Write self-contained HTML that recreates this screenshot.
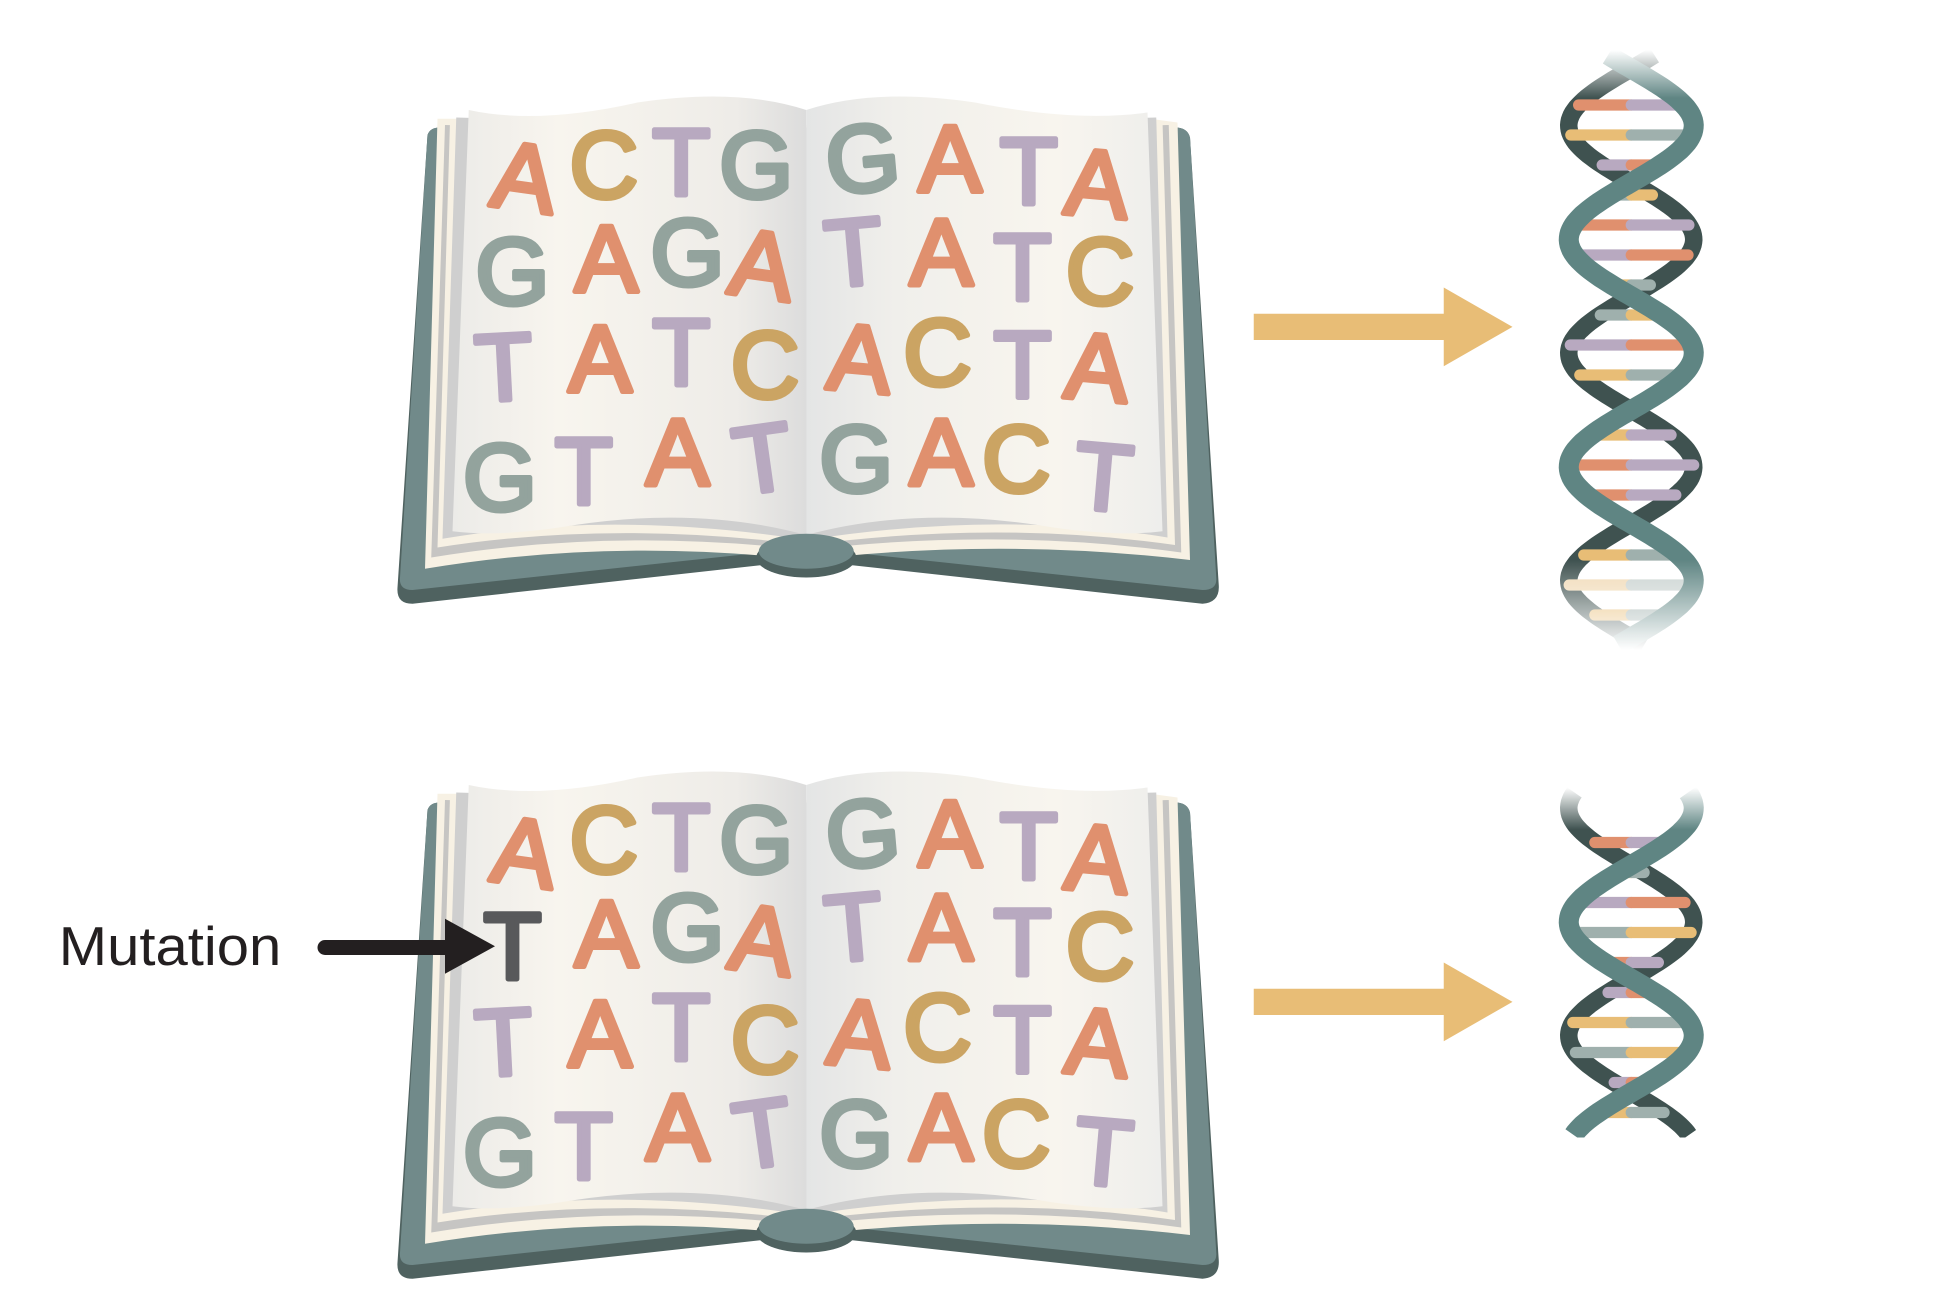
<!DOCTYPE html>
<html><head><meta charset="utf-8"><style>
html,body{margin:0;padding:0;background:#fff;}
svg{display:block;}
</style></head><body>
<svg id="root" width="1953" height="1311" viewBox="0 0 1562.4 1048.8" preserveAspectRatio="none" xmlns="http://www.w3.org/2000/svg">
<defs>
<linearGradient id="pageL" x1="0" x2="1" y1="0" y2="0">
<stop offset="0" stop-color="#ecebe8"/><stop offset="0.3" stop-color="#f8f5ee"/><stop offset="0.8" stop-color="#eeece8"/><stop offset="1" stop-color="#dcdcdc"/></linearGradient>
<linearGradient id="pageR" x1="0" x2="1" y1="0" y2="0">
<stop offset="0" stop-color="#e4e5e5"/><stop offset="0.25" stop-color="#f0efeb"/><stop offset="0.7" stop-color="#f8f5ee"/><stop offset="1" stop-color="#eeeeec"/></linearGradient>
<linearGradient id="fadeTop" x1="0" x2="0" y1="0" y2="1">
<stop offset="0" stop-color="#000"/><stop offset="0.08" stop-color="#fff"/><stop offset="0.85" stop-color="#fff"/><stop offset="1" stop-color="#000"/></linearGradient>
<linearGradient id="fadeTop2" x1="0" x2="0" y1="0" y2="1">
<stop offset="0" stop-color="#000"/><stop offset="0.12" stop-color="#fff"/><stop offset="1" stop-color="#fff"/></linearGradient>
<mask id="m1" maskUnits="userSpaceOnUse" x="1200" y="40" width="200" height="480"><rect x="1200" y="40" width="200" height="480" fill="url(#fadeTop)"/></mask>
<mask id="m2" maskUnits="userSpaceOnUse" x="1200" y="630" width="200" height="280"><rect x="1200" y="630" width="200" height="280" fill="url(#fadeTop2)"/></mask>
<g id="book">
<path d="M342,108 Q344,102 352,102 L646,150 L940,102 Q950,102 952,110 L975,468 Q976,482 962,483 L680,452 L645,462 L610,452 L330,483 Q317,483 318,470 Z" fill="#4f6260"/>
<path d="M342,108 Q344,102 352,102 L646,150 L940,102 Q950,102 952,110 L973,462 Q974,472 962,472 L680,442 L645,452 L610,442 L330,472 Q319,472 320,462 Z" fill="#718a8a"/>
<path d="M350,95 L372,95 L645,100 L920,95 L942,98 L952,448 Q800,430 645,448 Q490,430 340,455 Z" fill="#f7f1e4"/>
<path d="M356,100 L645,108 L935,100 L945,442 Q800,422 645,440 Q490,422 345,446 Z" fill="#c6c5c3"/>
<path d="M360,97 L645,105 L930,97 L940,436 Q800,416 645,436 Q490,416 350,438 Z" fill="#f7f1e4"/>
<path d="M365,94 L645,102 L925,94 L934,430 Q800,408 645,432 Q490,408 354,431 Z" fill="#cfcfcf"/>
<path d="M375,88 Q430,100 510,82 Q590,70 645,88 L645,428 Q560,405 460,420 Q400,430 362,425 Z" fill="url(#pageL)"/>
<path d="M645,88 Q700,70 780,82 Q860,98 918,90 L930,425 Q890,430 830,420 Q730,405 645,428 Z" fill="url(#pageR)"/>
<ellipse cx="645" cy="446" rx="40" ry="16" fill="#4f6260"/>
<ellipse cx="645" cy="441" rx="38" ry="14" fill="#718a8a"/>
</g>
</defs>
<use href="#book"/>
<use href="#book" y="540"/>
<g id="letters"></g>
<g id="arrows">
<path d="M1003,251 L1155,251 L1155,230 L1210,261.5 L1155,293 L1155,272 L1003,272 Z" fill="#e8bd76"/>
<path d="M1003,791 L1155,791 L1155,770 L1210,801.5 L1155,833 L1155,812 L1003,812 Z" fill="#e8bd76"/>
</g>
<g>
<text x="47" y="772" font-family="'Liberation Sans', sans-serif" font-size="44" textLength="178" lengthAdjust="spacingAndGlyphs" fill="#231f20">Mutation</text>
<line x1="260" y1="758" x2="365" y2="758" stroke="#231f20" stroke-width="12" stroke-linecap="round"/>
<path d="M356,735 L396,757 L356,779 Z" fill="#231f20"/>
</g>
<g id="dna1" mask="url(#m1)"></g>
<g id="dna2" mask="url(#m2)"></g>
</svg>
<script>
const NS="http://www.w3.org/2000/svg";
const colors={A:"#e0906e",C:"#cba463",T:"#b8a9c0",G:"#93a39d"};
const rows=[["A","C","T","G","G","A","T","A"],["G","A","G","A","T","A","T","C"],["T","A","T","C","A","C","T","A"],["G","T","A","T","G","A","C","T"]];
const xs=[[420,483,545,605,690,760,823,878],[410,485,550,610,683,753,818,880],[403,480,545,612,688,750,818,878],[400,467,542,610,685,753,813,883]];
const ys=[[140,130,128,130,125,125,135,145],[215,205,200,210,200,200,212,215],[292,285,280,290,285,280,290,292],[380,375,360,365,365,360,365,380]];
const rots=[[8,0,0,0,-5,0,0,5],[0,0,0,8,-5,0,0,0],[-3,0,0,0,5,0,0,5],[0,0,0,-8,0,0,0,5]];
const lg=document.getElementById('letters');
[0,540].forEach((dy,b)=>{
 rows.forEach((r,i)=>r.forEach((ch,j)=>{
  const t=document.createElementNS(NS,'text');
  let c=ch; let col=colors[ch];
  if(b===1&&i===1&&j===0){c="T";col="#58595b";}
  t.setAttribute('x',xs[i][j]);t.setAttribute('y',ys[i][j]+dy+28);
  t.setAttribute('text-anchor','middle');
  t.setAttribute('font-family',"'Liberation Sans', sans-serif");
  t.setAttribute('font-size','76');
  t.setAttribute('fill',col);t.setAttribute('stroke',col);t.setAttribute('stroke-width','4');t.setAttribute('stroke-linejoin','round');
  t.setAttribute('transform',`rotate(${rots[i][j]} ${xs[i][j]} ${ys[i][j]+dy})`);
  t.textContent=c;
  
  
  lg.appendChild(t);
 }));
});
const rungColors=[["#e0906e","#b8a9c0"],["#e8bd76","#9fb0ad"],["#b8a9c0","#e0906e"],["#9fb0ad","#e8bd76"],["#e0906e","#b8a9c0"],["#b8a9c0","#e0906e"],["#e8bd76","#9fb0ad"],["#9fb0ad","#e8bd76"],["#b8a9c0","#e0906e"],["#e8bd76","#9fb0ad"],["#e8bd76","#b8a9c0"],["#e0906e","#b8a9c0"],["#e0906e","#b8a9c0"],["#e8bd76","#9fb0ad"],["#f0d9b5","#c9d2d0"],["#e8bd76","#9fb0ad"]];
function helix(g,y0,y1){
 const cx=1305,A=50,P=182,ph=146;
 const X=(y,s)=>cx+s*A*Math.sin(Math.PI*2*(y-ph)/P+Math.PI);
 function path(s){let d="";for(let y=y0;y<=y1;y+=2){d+=(y===y0?"M":"L")+X(y,s).toFixed(1)+","+y+" ";}return d;}
 const back=document.createElementNS(NS,'path');
 back.setAttribute('d',path(-1));back.setAttribute('fill','none');back.setAttribute('stroke','#3f5250');back.setAttribute('stroke-width','14');
 
 
 g.appendChild(back);
 let k=0;
 for(let y=y0+40;y<y1-5;y+=24){
  const a=X(y,1),b=X(y,-1);const l=Math.min(a,b),r=Math.max(a,b);
  if(r-l<20){continue;}
  const cc=rungColors[k%rungColors.length];k++;
  const m=(l+r)/2;
  [[l,m,cc[0]],[m,r,cc[1]]].forEach(s=>{
   const rc=document.createElementNS(NS,'line');
   rc.setAttribute('x1',s[0]);rc.setAttribute('x2',s[1]);rc.setAttribute('y1',y);rc.setAttribute('y2',y);
   rc.setAttribute('stroke',s[2]);rc.setAttribute('stroke-width','9');rc.setAttribute('stroke-linecap','round');
   
   
   g.appendChild(rc);
  });
 }
 const front=document.createElementNS(NS,'path');
 front.setAttribute('d',path(1));front.setAttribute('fill','none');front.setAttribute('stroke','#5f8583');front.setAttribute('stroke-width','16');
 
 
 g.appendChild(front);
}
helix(document.getElementById('dna1'),44,516);
helix(document.getElementById('dna2'),634,908);
</script>
</body></html>
